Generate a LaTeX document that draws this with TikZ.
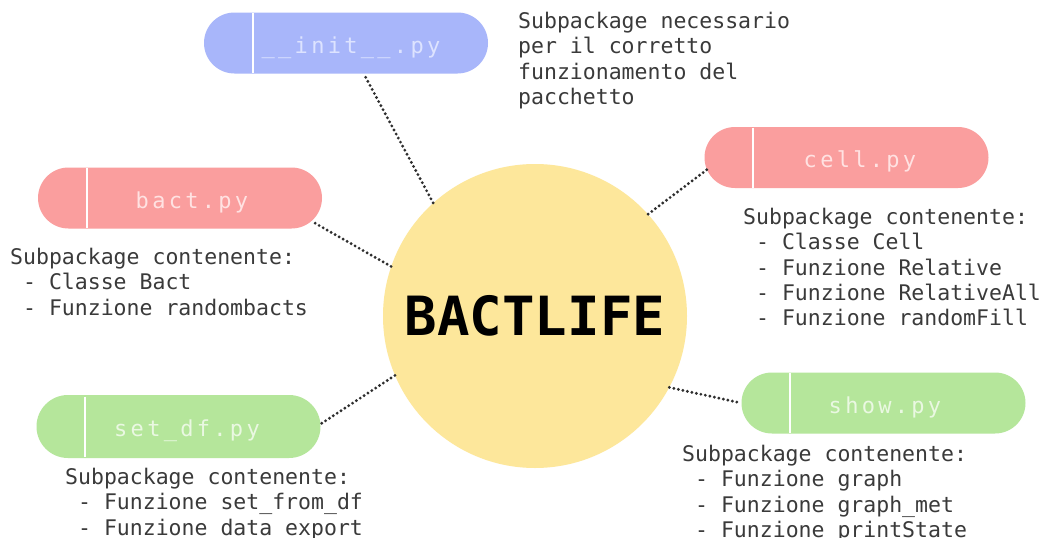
\documentclass[tikz,border=0pt]{standalone}
\usepackage{fontspec}
\usetikzlibrary{calc,shapes.misc}
\newfontfamily\descfont{DejaVu Sans Mono}
\newfontfamily\pillfont[LetterSpace=15]{DejaVu Sans Mono}
\newfontfamily\titlefont{DejaVu Sans Mono}
\definecolor{pblue}{HTML}{A8B6FA}
\definecolor{pred}{HTML}{FA9E9E}
\definecolor{pgreen}{HTML}{B5E69B}
\definecolor{cyell}{HTML}{FDE79B}
\definecolor{tblue}{HTML}{DDE3FF}
\definecolor{tred}{HTML}{FFE2E2}
\definecolor{tgreen}{HTML}{EAF8E2}
\definecolor{desc}{HTML}{3A3A3A}
\definecolor{dotc}{HTML}{2E2E2E}
\tikzset{
  pill/.style={shape=rounded rectangle, minimum width=284pt, minimum height=61pt, inner sep=0pt, draw=none},
  pilltext/.style={anchor=base, inner sep=0pt, font=\pillfont\fontsize{22}{26}\selectfont},
  divider/.style={white, line width=2pt},
  desctext/.style={anchor=north west, inner sep=0pt, align=left, text=desc, font=\descfont\fontsize{21.5}{25.3}\selectfont},
  link/.style={dotc, line width=3.2pt, line cap=round, dash pattern=on 0pt off 4.6pt},
  hub/.style={shape=circle, minimum size=304pt, inner sep=0pt, fill=cyell, draw=none, font=\titlefont\bfseries\fontsize{54}{60}\selectfont}
}
\begin{document}
\begin{tikzpicture}[x=1pt,y=-1pt]
\useasboundingbox (0,0) rectangle (1045,538);
\fill[white] (0,0) rectangle (1045,538);

% hub
\node[hub] (core) at (535,316) {BACTLIFE};

% pills
\node[pill, fill=pblue] (init) at (346,43) {};
\node[pill, fill=pred] (bact) at (180,198) {};
\node[pill, fill=pred] (cell) at (846.5,157.5) {};
\node[pill, fill=pgreen, minimum height=63pt] (setdf) at (178.5,426.5) {};
\node[pill, fill=pgreen] (show) at (883.5,403) {};

\foreach \p in {init,bact,cell,setdf,show}{
  \draw[divider] ($(\p.west)+(49,-30)$) -- ($(\p.west)+(49,30)$);
}

\node[pilltext, text=tblue] (initlbl) at (351,53) {\_\_init\_\_.py};
\node[pilltext, text=tred] (bactlbl) at (192,208) {bact.py};
\node[pilltext, text=tred] (celllbl) at (860,167) {cell.py};
\node[pilltext, text=tgreen] (setdflbl) at (187,436.5) {set\_df.py};
\node[pilltext, text=tgreen] (showlbl) at (885,413) {show.py};

% connectors
\draw[link] (core.132.2) -- (init.-60.5);
\draw[link] (core.161.3) -- (bact.-10);
\draw[link] (core.42) -- (cell.185.2);
\draw[link] (core.203.6) -- (setdf.1);
\draw[link] (core.332.8) -- (show.180.8);

% descriptions
\node[desctext] (initdesc) at (518,12) {Subpackage necessario\\per il corretto\\funzionamento del\\pacchetto};
\node[desctext] (bactdesc) at (10,248) {Subpackage contenente:\\\hphantom{-}- Classe Bact\\\hphantom{-}- Funzione randombacts};
\node[desctext] (celldesc) at (743,208) {Subpackage contenente:\\\hphantom{-}- Classe Cell\\\hphantom{-}- Funzione Relative\\\hphantom{-}- Funzione RelativeAll\\\hphantom{-}- Funzione randomFill};
\node[desctext] (setdfdesc) at (65,468) {Subpackage contenente:\\\hphantom{-}- Funzione set\_from\_df\\\hphantom{-}- Funzione data\_export};
\node[desctext] (showdesc) at (682,445) {Subpackage contenente:\\\hphantom{-}- Funzione graph\\\hphantom{-}- Funzione graph\_met\\\hphantom{-}- Funzione printState};
\end{tikzpicture}
\end{document}
